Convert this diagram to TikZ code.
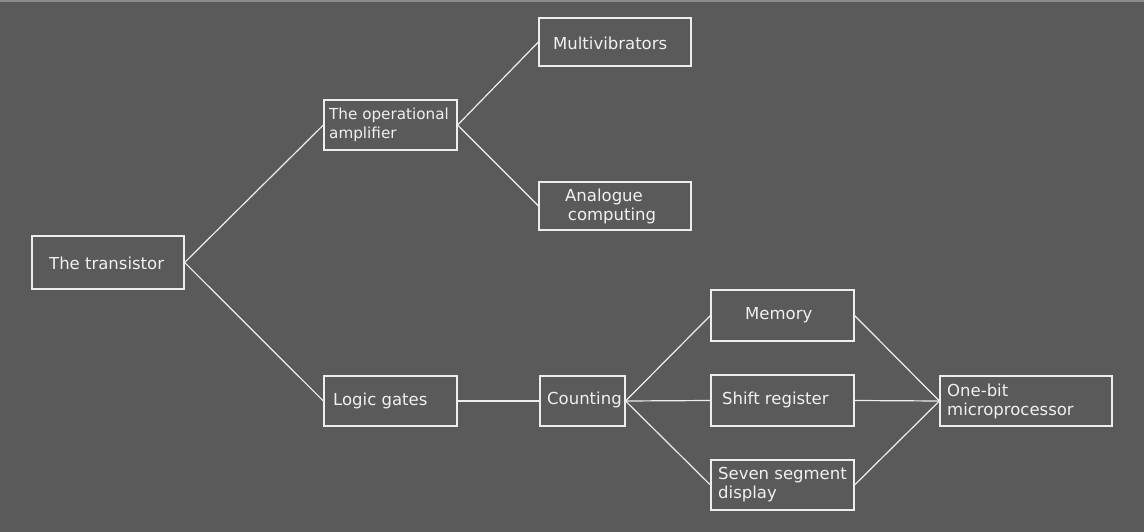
\documentclass[tikz,border=0pt]{standalone}
\usepackage{fontspec}
\setmainfont{DejaVu Sans}
\begin{document}
\begin{tikzpicture}[x=1pt,y=-1pt,
  box/.style={draw=boxline, line width=1.2pt, rectangle, inner sep=0pt},
  lbl/.style={anchor=west, inner sep=0pt, text=txt, align=left,
    font=\fontsize{16.5}{19}\selectfont},
  wire/.style={draw=boxline, line width=1.2pt}]
\definecolor{bg}{RGB}{90,90,90}
\definecolor{boxline}{RGB}{238,238,238}
\definecolor{txt}{RGB}{240,240,240}
\fill[bg] (0,0) rectangle (1144,532);
\useasboundingbox (0,0) rectangle (1144,532);
\fill[bg!70!white] (0,0) rectangle (1144,2);
% boxes
\node[box, minimum width=152, minimum height=53] (tr) at (108,262.5) {};
\node[box, minimum width=133, minimum height=50] (oa) at (390.5,125) {};
\node[box, minimum width=152, minimum height=48] (mv) at (615,42) {};
\node[box, minimum width=152, minimum height=48] (ac) at (615,206) {};
\node[box, minimum width=133, minimum height=50] (lg) at (390.5,401) {};
\node[box, minimum width=85, minimum height=50] (ct) at (582.5,401) {};
\node[box, minimum width=143, minimum height=51] (me) at (782.5,315.5) {};
\node[box, minimum width=143, minimum height=51] (sr) at (782.5,400.5) {};
\node[box, minimum width=143, minimum height=50] (ss) at (782.5,485) {};
\node[box, minimum width=172, minimum height=50] (ob) at (1026,401) {};
% labels
\node[lbl] (tl1) at (49,263) {The transistor};
\node[lbl, font=\fontsize{15.2}{19}\selectfont] (tl2) at (329,125) {The operational\\amplifier};
\node[lbl] (tl3) at (553,43) {Multivibrators};
\node[lbl] (tl4) at (565,206) {Analogue\\\,computing};
\node[lbl] (tl5) at (333,401) {Logic gates};
\node[lbl] (tl6) at (547,400) {Counting};
\node[lbl] (tl7) at (745,315) {Memory};
\node[lbl] (tl8) at (722,400) {Shift register};
\node[lbl] (tl9) at (718,485) {Seven segment\\display};
\node[lbl] (tl10) at (947,401) {One-bit\\microprocessor};
% connectors
\draw[wire] (tr.east) -- (oa.west);
\draw[wire] (tr.east) -- (lg.west);
\draw[wire] (oa.east) -- (mv.west);
\draw[wire] (oa.east) -- (ac.west);
\draw[wire] (lg.east) -- (ct.west);
\draw[wire] (ct.east) -- (me.west);
\draw[wire] (ct.east) -- (sr.west);
\draw[wire] (ct.east) -- (ss.west);
\draw[wire] (me.east) -- (ob.west);
\draw[wire] (sr.east) -- (ob.west);
\draw[wire] (ss.east) -- (ob.west);
\end{tikzpicture}
\end{document}
